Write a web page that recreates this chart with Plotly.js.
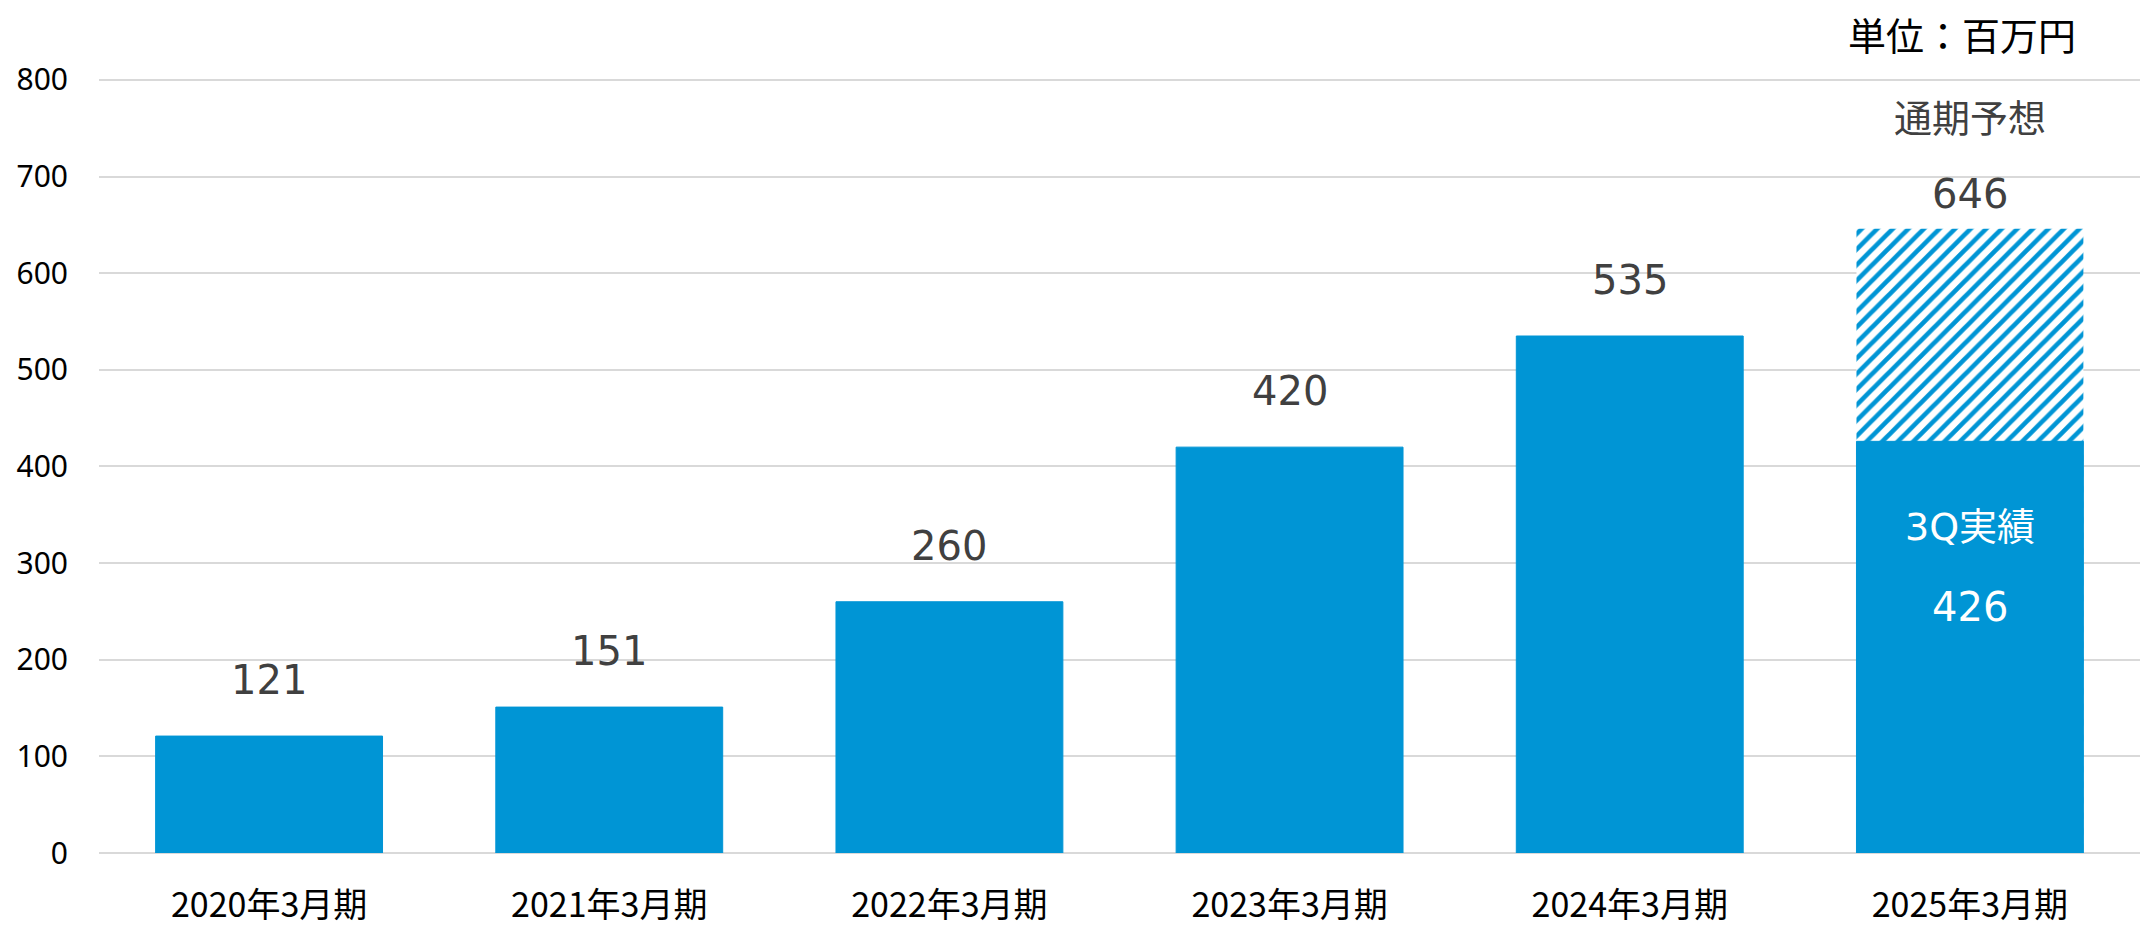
<!DOCTYPE html>
<html>
<head>
<meta charset="utf-8">
<script src="https://cdn.plot.ly/plotly-3.0.1.min.js"></script>
<style>html,body{margin:0;padding:0;background:#fff;}#chart{width:2145px;height:928px;}</style>
</head>
<body>
<div id="chart"></div>
<script>
// Data
const categories = ['2020年3月期', '2021年3月期', '2022年3月期', '2023年3月期', '2024年3月期', '2025年3月期'];
const actuals = [121, 151, 260, 420, 535, 426];
const forecast = [null, null, null, null, null, 646];
const yTicks = [0, 100, 200, 300, 400, 500, 600, 700, 800];
const unitLabel = '単位：百万円';
const forecastLabel = '通期予想';
const actualLabel = '3Q実績';

const blue = '#0095d5';

const traces = [
  {
    type: 'bar', x: categories, y: forecast,
    marker: { color: '#ffffff', line: { width: 0 },
      pattern: { shape: '/', fgcolor: blue, bgcolor: '#ffffff', size: 11, solidity: 0.42 } },
    hoverinfo: 'skip', showlegend: false
  },
  {
    type: 'bar', x: categories, y: actuals,
    marker: { color: blue, line: { width: 1, color: blue } },
    hoverinfo: 'skip', showlegend: false
  }
];

const labelFont = { family: 'DejaVu Sans, Noto Sans CJK JP', size: 40, color: '#404040' };
const annotations = [];
categories.forEach((c, i) => {
  if (forecast[i] == null) {
    annotations.push({ x: c, y: actuals[i], xref: 'x', yref: 'y', text: String(actuals[i]),
      showarrow: false, yanchor: 'middle', yshift: 56, font: labelFont });
  } else {
    annotations.push({ x: c, y: forecast[i], xref: 'x', yref: 'y', text: String(forecast[i]),
      showarrow: false, yanchor: 'middle', yshift: 35, font: labelFont });
    annotations.push({ x: c, y: forecast[i], xref: 'x', yref: 'y', text: forecastLabel,
      showarrow: false, yanchor: 'middle', yshift: 113,
      font: { family: 'Noto Sans CJK JP', size: 38, color: '#404040' } });
    annotations.push({ x: c, y: actuals[i], xref: 'x', yref: 'y', text: actualLabel,
      showarrow: false, yanchor: 'middle', yshift: -86,
      font: { family: 'DejaVu Sans, Noto Sans CJK JP', size: 38, color: '#ffffff' } });
    annotations.push({ x: c, y: actuals[i], xref: 'x', yref: 'y', text: String(actuals[i]),
      showarrow: false, yanchor: 'middle', yshift: -166,
      font: { family: 'DejaVu Sans', size: 40, color: '#ffffff' } });
  }
});
annotations.push({ x: 0.9696, y: 1.057, xref: 'paper', yref: 'paper', text: unitLabel,
  showarrow: false, xanchor: 'right', yanchor: 'middle',
  font: { family: 'Noto Sans CJK JP', size: 38, color: '#000000' } });

const layout = {
  width: 2145, height: 928,
  margin: { l: 99, r: 5, t: 78, b: 75, pad: 0 },
  paper_bgcolor: '#ffffff', plot_bgcolor: '#ffffff',
  barmode: 'overlay', bargap: 0.333,
  showlegend: false,
  xaxis: {
    type: 'category', range: [-0.5, 5.5], showgrid: false, zeroline: false,
    showline: false, ticks: '', ticklabelstandoff: 29,
    tickfont: { family: 'Noto Sans CJK JP', size: 34, color: '#000000' }
  },
  yaxis: {
    range: [0, 802], tickvals: yTicks, ticktext: yTicks.map(String),
    showgrid: true, gridcolor: '#d9d9d9', gridwidth: 2,
    zeroline: true, zerolinecolor: '#d9d9d9', zerolinewidth: 2,
    showline: false, ticks: '', ticklabelstandoff: 30,
    tickfont: { family: 'Noto Sans', size: 30, color: '#000000' }
  },
  annotations: annotations
};

Plotly.newPlot('chart', traces, layout, { staticPlot: true, displayModeBar: false });
</script>
</body>
</html>
